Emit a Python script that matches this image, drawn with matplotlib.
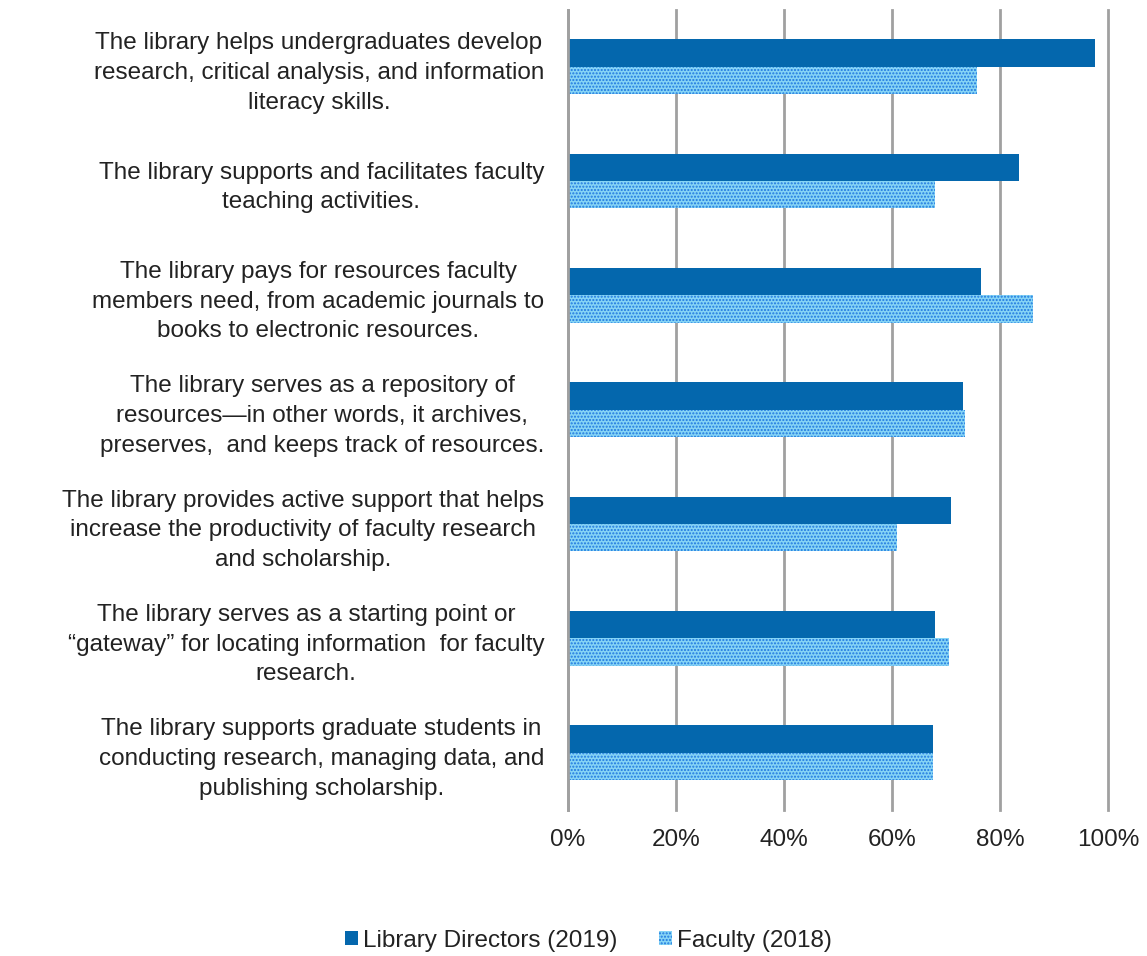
import matplotlib.pyplot as plt
import numpy as np

plt.rcParams['font.family'] = ['Liberation Sans', 'DejaVu Sans']

labels = [
    "The library helps undergraduates develop\nresearch, critical analysis, and information\nliteracy skills.",
    "The library supports and facilitates faculty\nteaching activities.",
    "The library pays for resources faculty\nmembers need, from academic journals to\nbooks to electronic resources.",
    "The library serves as a repository of\nresources\u2014in other words, it archives,\npreserves,  and keeps track of resources.",
    "The library provides active support that helps\nincrease the productivity of faculty research\nand scholarship.",
    "The library serves as a starting point or\n\u201cgateway\u201d for locating information  for faculty\nresearch.",
    "The library supports graduate students in\nconducting research, managing data, and\npublishing scholarship.",
]
directors = [97.6, 83.5, 76.5, 73.1, 70.9, 68.0, 67.6]
faculty = [75.7, 68.0, 86.1, 73.5, 60.9, 70.6, 67.6]

fig = plt.figure(figsize=(11.47, 9.56), dpi=100)
ax = fig.add_axes([0.495, 0.153, 0.471, 0.837])

y = np.arange(len(labels))
h = 0.24
ax.barh(y - h / 2, directors, height=h, color='#0467ad', label='Library Directors (2019)')
ax.barh(y + h / 2, faculty, height=h, color='#86d4f5', edgecolor='#1f78e0',
        hatch='.....', linewidth=0, label='Faculty (2018)')

ax.set_xlim(0, 100)
ax.set_ylim(len(labels) - 0.5, -0.5)
ax.set_xticks([0, 20, 40, 60, 80, 100])
ax.set_xticklabels(['0%', '20%', '40%', '60%', '80%', '100%'], fontsize=17.5, color='#222222')
ax.set_yticks(y)
ax.set_yticklabels(labels, fontsize=17.5, color='#222222', multialignment='center',
                   linespacing=1.45)
ax.tick_params(axis='both', length=0)
ax.tick_params(axis='y', pad=17)
ax.tick_params(axis='x', pad=14)

ax.grid(axis='x', color='#a0a0a0', linewidth=2)
for gl in ax.get_xgridlines():
    gl.set_clip_on(False)
ax.set_axisbelow(True)
for s in ['top', 'right', 'bottom']:
    ax.spines[s].set_visible(False)
ax.spines['left'].set_color('#a0a0a0')
ax.spines['left'].set_linewidth(2)

fig.legend(loc='center', bbox_to_anchor=(0.513, 0.016), ncol=2, frameon=False,
           fontsize=17.5, handlelength=0.55, handleheight=0.55, handletextpad=0.2,
           columnspacing=1.7, labelcolor='#222222')

fig.savefig('out.png', dpi=100)
